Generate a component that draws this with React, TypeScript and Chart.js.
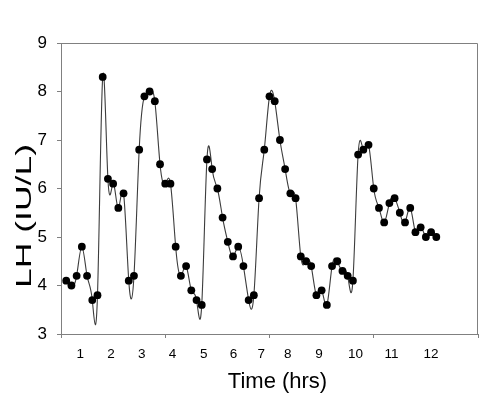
import { useEffect, useRef } from 'react';
import { Chart, registerables } from 'chart.js';

Chart.register(...registerables);

// Sample times (minutes from start, 10-min sampling)
const sampleMinutes = [
  10, 20, 30, 40, 50, 60, 70, 80, 90, 100, 110, 120,
  130, 140, 150, 160, 170, 180, 190, 200, 210, 220, 230, 240,
  250, 260, 270, 280, 290, 300, 310, 320, 330, 340, 350, 360,
  370, 380, 390, 400, 410, 420, 430, 440, 450, 460, 470, 480,
  490, 500, 510, 520, 530, 540, 550, 560, 570, 580, 590, 600,
  610, 620, 630, 640, 650, 660, 670, 680, 690, 700, 710, 720,
];

// LH (IU/L)
const lhValues = [
  4.1, 4.0, 4.2, 4.8, 4.2, 3.7, 3.8,
  8.3, 6.2, 6.1, 5.6, 5.9, 4.1, 4.2,
  6.8, 7.9, 8.0, 7.8, 6.5, 6.1, 6.1,
  4.8, 4.2, 4.4, 3.9, 3.7, 3.6, 6.6,
  6.4, 6.0, 5.4, 4.9, 4.6, 4.8, 4.4,
  3.7, 3.8, 5.8, 6.8, 7.9, 7.8, 7.0,
  6.4, 5.9, 5.8, 4.6, 4.5, 4.4, 3.8,
  3.9, 3.6, 4.4, 4.5, 4.3, 4.2, 4.1,
  6.7, 6.8, 6.9, 6.0, 5.6, 5.3, 5.7,
  5.8, 5.5, 5.3, 5.6, 5.1, 5.2, 5.0, 5.1, 5.0,
];

// Hour labels on the x axis and where they sit (minutes)
const hourTickLabels = ['1', '2', '3', '4', '5', '6', '7', '8', '9', '10', '11', '12'];
const hourTickMinutes = [37, 96, 155, 214, 274, 331, 384, 435, 495, 565, 634, 710];
// Tick marks on the x axis (minutes)
const majorTickMinutes = [0, 200, 400, 600, 800];

const AXIS_GRAY = '#808080';
const FONT = "'Liberation Sans', Arial, Helvetica, sans-serif";

const splinePlugin = {
  id: 'naturalSpline',
  beforeDatasetsDraw(chart: any) {
    const meta = chart.getDatasetMeta(0);
    const pts = meta.data.map((p: any) => ({ x: p.x, y: p.y }));
    const n = pts.length;
    if (n < 2) return;
    const h: number[] = [];
    for (let i = 0; i < n - 1; i++) h.push(pts[i + 1].x - pts[i].x);
    const M = new Array(n).fill(0);
    const a = new Array(n).fill(0);
    const b = new Array(n).fill(0);
    const c = new Array(n).fill(0);
    const d = new Array(n).fill(0);
    b[0] = 1; b[n - 1] = 1;
    for (let i = 1; i < n - 1; i++) {
      a[i] = h[i - 1];
      b[i] = 2 * (h[i - 1] + h[i]);
      c[i] = h[i];
      d[i] = 6 * ((pts[i + 1].y - pts[i].y) / h[i] - (pts[i].y - pts[i - 1].y) / h[i - 1]);
    }
    const cp = new Array(n).fill(0);
    const dp = new Array(n).fill(0);
    cp[0] = c[0] / b[0];
    dp[0] = d[0] / b[0];
    for (let i = 1; i < n; i++) {
      const m = b[i] - a[i] * cp[i - 1];
      cp[i] = c[i] / m;
      dp[i] = (d[i] - a[i] * dp[i - 1]) / m;
    }
    M[n - 1] = dp[n - 1];
    for (let i = n - 2; i >= 0; i--) M[i] = dp[i] - cp[i] * M[i + 1];

    const ctx = chart.ctx;
    const area = chart.chartArea;
    ctx.save();
    ctx.beginPath();
    ctx.rect(area.left, area.top, area.right - area.left, area.bottom - area.top);
    ctx.clip();
    ctx.beginPath();
    ctx.moveTo(pts[0].x, pts[0].y);
    for (let i = 0; i < n - 1; i++) {
      const hi = h[i];
      const dy = (pts[i + 1].y - pts[i].y) / hi;
      const m0 = dy - (hi * (2 * M[i] + M[i + 1])) / 6;
      const m1 = dy + (hi * (M[i] + 2 * M[i + 1])) / 6;
      ctx.bezierCurveTo(
        pts[i].x + hi / 3, pts[i].y + (m0 * hi) / 3,
        pts[i + 1].x - hi / 3, pts[i + 1].y - (m1 * hi) / 3,
        pts[i + 1].x, pts[i + 1].y
      );
    }
    ctx.strokeStyle = '#3c3c3c';
    ctx.lineWidth = 1.1;
    ctx.stroke();
    ctx.restore();
  },
};

const framePlugin = {
  id: 'frameAndTitles',
  afterDraw(chart: any) {
    const ctx = chart.ctx;
    const area = chart.chartArea;
    ctx.save();
    ctx.strokeStyle = AXIS_GRAY;
    ctx.lineWidth = 1;
    const top = Math.round(area.top) + 0.5;
    const right = Math.round(area.right) - 0.5;
    ctx.beginPath();
    ctx.moveTo(area.left, top);
    ctx.lineTo(right, top);
    ctx.lineTo(right, area.bottom);
    ctx.stroke();

    ctx.fillStyle = '#000';
    ctx.textAlign = 'center';
    ctx.textBaseline = 'middle';
    // x title
    ctx.font = `22px ${FONT}`;
    ctx.fillText('Time (hrs)', 277.5, 381.5);
    // y title (rotated, stretched along reading direction)
    ctx.font = `22px ${FONT}`;
    const text = 'LH (IU/L)';
    const w = ctx.measureText(text).width;
    const stretch = 144 / w;
    ctx.translate(25, 216);
    ctx.rotate(-Math.PI / 2);
    ctx.scale(stretch, 1);
    ctx.fillText(text, 0, 0);
    ctx.restore();
  },
};

export default function App() {
  const canvasRef = useRef<HTMLCanvasElement | null>(null);

  useEffect(() => {
    document.body.style.margin = '0';
    const canvas = canvasRef.current;
    if (!canvas) return;
    const chart = new Chart(canvas, {
      type: 'line',
      data: {
        labels: sampleMinutes,
        datasets: [
          {
            label: 'LH',
            data: lhValues,
            showLine: false,
            pointRadius: 3.9,
            pointHoverRadius: 3.9,
            pointBackgroundColor: '#000',
            pointBorderColor: '#000',
            pointBorderWidth: 0,
          },
        ],
      },
      options: {
        animation: false,
        responsive: false,
        maintainAspectRatio: false,
        events: [],
        layout: { padding: { top: 43, right: 22, left: 0, bottom: 0 } },
        plugins: {
          legend: { display: false },
          tooltip: { enabled: false },
          title: { display: false },
        },
        scales: {
          x: {
            type: 'linear',
            min: 0,
            max: 800,
            afterBuildTicks: (scale: any) => {
              scale.ticks = [...majorTickMinutes, ...hourTickMinutes]
                .sort((p, q) => p - q)
                .map((v) => ({ value: v }));
            },
            afterFit: (scale: any) => {
              scale.height = 63;
            },
            ticks: {
              autoSkip: false,
              maxRotation: 0,
              minRotation: 0,
              padding: 8,
              color: '#000',
              font: { family: FONT, size: 13.5 },
              callback: (value: any) => {
                const i = hourTickMinutes.indexOf(Number(value));
                return i >= 0 ? hourTickLabels[i] : '';
              },
            },
            grid: {
              drawOnChartArea: false,
              drawTicks: true,
              tickLength: 4,
              tickColor: (c: any) =>
                c.tick && majorTickMinutes.includes(c.tick.value) ? AXIS_GRAY : 'rgba(0,0,0,0)',
            },
            border: { color: AXIS_GRAY, width: 1 },
          },
          y: {
            min: 3,
            max: 9,
            afterFit: (scale: any) => {
              scale.width = 61;
            },
            ticks: {
              stepSize: 1,
              padding: 10,
              color: '#000',
              font: { family: FONT, size: 17 },
            },
            grid: {
              drawOnChartArea: false,
              drawTicks: true,
              tickLength: 4,
              tickColor: AXIS_GRAY,
            },
            border: { color: AXIS_GRAY, width: 1 },
          },
        },
      },
      plugins: [splinePlugin, framePlugin],
    });
    return () => chart.destroy();
  }, []);

  return (
    <div style={{ width: 500, height: 397 }}>
      <canvas ref={canvasRef} width={500} height={397} style={{ display: 'block' }} />
    </div>
  );
}
